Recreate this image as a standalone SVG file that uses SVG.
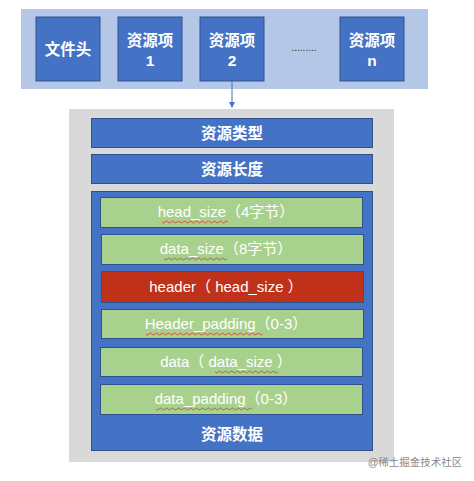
<svg xmlns="http://www.w3.org/2000/svg" width="474" height="481" viewBox="0 0 474 481">
<defs>
<style>
.t{font-family:"Liberation Sans","Noto Sans CJK SC",sans-serif;fill:#fff;text-anchor:middle}
.cn{font-size:15.5px;font-weight:bold}
.g{font-size:15px}
.blue{fill:#4472c4;stroke:#2f528f;stroke-width:1}
.green{fill:#a9d18e;stroke:#2f528f;stroke-width:1}
.red{fill:#c0311a;stroke:#2f528f;stroke-width:1}
.wave{fill:none;stroke:#d23a2a;stroke-width:0.8}
</style>
<marker id="ah" markerWidth="6" markerHeight="6" refX="5" refY="3" orient="auto" markerUnits="userSpaceOnUse">
<path d="M0,0 L6,3 L0,6 z" fill="#4472c4"/>
</marker>
</defs>
<rect width="474" height="481" fill="#fff"/>
<g id="file">
<rect x="21" y="9" width="407" height="80" fill="#b4c7e7"/>
</g>
<g id="filehead"><rect class="blue" x="36" y="17" width="64" height="64" stroke="none"/><text class="t cn" x="68" y="55">文件头</text></g>
<g id="item1"><rect class="blue" x="118" y="17" width="64" height="64" stroke="none"/><text class="t cn" x="150" y="46">资源项</text><text class="t cn" x="150" y="66">1</text></g>
<g id="item2"><rect class="blue" x="200" y="17" width="64" height="64" stroke="none"/><text class="t cn" x="232" y="46">资源项</text><text class="t cn" x="232" y="66">2</text></g>
<g id="dots"><text x="304" y="51" font-family="Liberation Sans,sans-serif" font-size="10" fill="#333" text-anchor="middle">.........</text></g>
<g id="itemn"><rect class="blue" x="340" y="17" width="64" height="64" stroke="none"/><text class="t cn" x="372" y="46">资源项</text><text class="t cn" x="372" y="66">n</text></g>
<g id="connectors">
<line x1="232" y1="81" x2="232" y2="107" stroke="#4472c4" stroke-width="1" marker-end="url(#ah)"/>
</g>
<g id="resource">
<rect x="69" y="109" width="325" height="353" fill="#d9d9d9"/>
</g>
<g id="type"><rect class="blue" x="91.5" y="118.5" width="281" height="29"/><text class="t cn" x="232" y="139">资源类型</text></g>
<g id="length"><rect class="blue" x="91.5" y="154.5" width="281" height="29"/><text class="t cn" x="232" y="175">资源长度</text></g>
<g id="data-block"><rect class="blue" x="91.5" y="191.5" width="281" height="259"/><text class="t cn" x="232" y="440">资源数据</text></g>
<g id="head_size"><rect class="green" x="100.5" y="197.5" width="262" height="30"/><text class="t g" x="226" y="217">head_size（4字节）</text><path class="wave" d="M162,222 q1.5,2 3,0 t3,0 t3,0 t3,0 t3,0 t3,0 t3,0 t3,0 t3,0 t3,0 t3,0 t3,0 t3,0 t3,0 t3,0 t3,0 t3,0 t3,0 t3,0 t3,0 t3,0 t3,0"/></g>
<g id="data_size"><rect class="green" x="101.5" y="234.5" width="262" height="30"/><text class="t g" x="226" y="254">data_size（8字节）</text><path class="wave" d="M164,259 q1.5,2 3,0 t3,0 t3,0 t3,0 t3,0 t3,0 t3,0 t3,0 t3,0 t3,0 t3,0 t3,0 t3,0 t3,0 t3,0 t3,0 t3,0 t3,0 t3,0 t3,0 t3,0"/></g>
<g id="header"><rect class="red" x="101.5" y="271.5" width="262" height="31"/><text class="t g" x="226" y="292">header（ head_size ）</text><path class="wave" d="M222,297 q1.5,2 3,0 t3,0 t3,0 t3,0 t3,0 t3,0 t3,0 t3,0 t3,0 t3,0 t3,0 t3,0 t3,0 t3,0 t3,0 t3,0 t3,0 t3,0 t3,0 t3,0 t3,0 t3,0 t3,0 t3,0 t3,0"/></g>
<g id="header_padding"><rect class="green" x="101.5" y="309.5" width="262" height="29"/><text class="t g" x="226" y="329">Header_padding（0-3）</text><path class="wave" d="M146,334 q1.5,2 3,0 t3,0 t3,0 t3,0 t3,0 t3,0 t3,0 t3,0 t3,0 t3,0 t3,0 t3,0 t3,0 t3,0 t3,0 t3,0 t3,0 t3,0 t3,0 t3,0 t3,0 t3,0 t3,0 t3,0 t3,0 t3,0 t3,0 t3,0 t3,0 t3,0 t3,0 t3,0 t3,0 t3,0 t3,0 t3,0 t3,0 t3,0 t3,0"/></g>
<g id="data"><rect class="green" x="100.5" y="347.5" width="262" height="29"/><text class="t g" x="226" y="367">data（ data_size ）</text><path class="wave" d="M215,372 q1.5,2 3,0 t3,0 t3,0 t3,0 t3,0 t3,0 t3,0 t3,0 t3,0 t3,0 t3,0 t3,0 t3,0 t3,0 t3,0 t3,0 t3,0 t3,0 t3,0 t3,0 t3,0"/></g>
<g id="data_padding"><rect class="green" x="100.5" y="384.5" width="262" height="30"/><text class="t g" x="226" y="404">data_padding（0-3）</text><path class="wave" d="M156,409 q1.5,2 3,0 t3,0 t3,0 t3,0 t3,0 t3,0 t3,0 t3,0 t3,0 t3,0 t3,0 t3,0 t3,0 t3,0 t3,0 t3,0 t3,0 t3,0 t3,0 t3,0 t3,0 t3,0 t3,0 t3,0 t3,0 t3,0 t3,0 t3,0 t3,0 t3,0 t3,0 t3,0"/></g>
<text x="415" y="466" font-family="Liberation Sans,Noto Sans CJK SC,sans-serif" font-size="10.5" fill="#8a8a8a" text-anchor="middle">@稀土掘金技术社区</text>
</svg>
